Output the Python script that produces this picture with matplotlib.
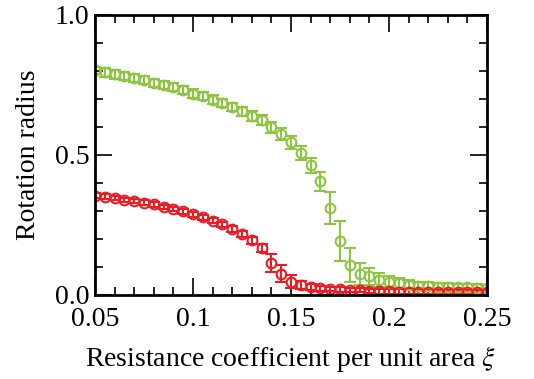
import matplotlib
matplotlib.use('Agg')
import matplotlib.pyplot as plt
import numpy as np

# resistance coefficient values (step 0.005)
xi = [0.05 + 0.005 * i for i in range(41)]

green_r = [0.802, 0.795, 0.788, 0.782, 0.774, 0.768, 0.757, 0.750, 0.742, 0.732,
           0.719, 0.710, 0.698, 0.685, 0.671, 0.656, 0.639, 0.624, 0.599, 0.575,
           0.545, 0.508, 0.464, 0.406, 0.311, 0.193, 0.108, 0.076, 0.067, 0.055,
           0.046, 0.042, 0.036, 0.033, 0.031, 0.030, 0.029, 0.029, 0.027, 0.026, 0.025]
green_err = [0.012, 0.015, 0.015, 0.015, 0.015, 0.015, 0.015, 0.015, 0.015, 0.015,
             0.015, 0.015, 0.015, 0.015, 0.015, 0.016, 0.017, 0.018, 0.019, 0.020,
             0.022, 0.025, 0.027, 0.034, 0.058, 0.070, 0.060, 0.040, 0.030, 0.025,
             0.022, 0.018, 0.016, 0.015, 0.014, 0.013, 0.013, 0.012, 0.012, 0.012, 0.012]

red_r = [0.355, 0.351, 0.346, 0.340, 0.336, 0.330, 0.324, 0.315, 0.308, 0.299,
         0.289, 0.277, 0.265, 0.252, 0.236, 0.218, 0.195, 0.167, 0.115, 0.076,
         0.048, 0.036, 0.029, 0.024, 0.021, 0.020, 0.018, 0.017, 0.015, 0.013,
         0.013, 0.012, 0.012, 0.011, 0.011, 0.011, 0.010, 0.010, 0.010, 0.010, 0.010]
red_err = [0.008, 0.008, 0.008, 0.008, 0.008, 0.008, 0.008, 0.008, 0.008, 0.008,
           0.009, 0.009, 0.009, 0.010, 0.011, 0.012, 0.013, 0.015, 0.033, 0.030,
           0.024, 0.015, 0.010, 0.009, 0.008, 0.008, 0.008, 0.008, 0.008, 0.008,
           0.008, 0.008, 0.008, 0.008, 0.008, 0.008, 0.008, 0.008, 0.008, 0.008, 0.008]

plt.rcParams['font.family'] = ['Liberation Serif', 'DejaVu Serif']
plt.rcParams['mathtext.fontset'] = 'stix'

fig = plt.figure(figsize=(5.34, 3.79), dpi=100)
ax = fig.add_axes([95/534, 1 - 295/379, 392/534, 280/379])

ax.errorbar(xi, green_r, yerr=green_err, fmt='o', mfc='none', mec='#8cc63e',
            ecolor='#8cc63e', ms=7, mew=1.5, elinewidth=1.5, capsize=4.5, capthick=1.5)
ax.errorbar(xi, red_r, yerr=red_err, fmt='o', mfc='none', mec='#ec1c24',
            ecolor='#ec1c24', ms=7, mew=1.5, elinewidth=1.5, capsize=4.5, capthick=1.5)

ax.set_xlim(0.05, 0.25)
ax.set_ylim(0.0, 1.0)
ax.set_xticks([0.05, 0.1, 0.15, 0.2, 0.25])
ax.set_xticklabels(['0.05', '0.1', '0.15', '0.2', '0.25'])
ax.set_xticks(np.arange(0.05, 0.2501, 0.01), minor=True)
ax.set_yticks([0.0, 0.5, 1.0])
ax.set_yticklabels(['0.0', '0.5', '1.0'])
ax.set_yticks(np.arange(0, 1.001, 0.1), minor=True)
ax.tick_params(which='both', direction='in', top=True, right=True, labelsize=20, width=1.2)
ax.tick_params(which='major', length=12)
ax.tick_params(axis='x', which='major', pad=9)
ax.tick_params(axis='y', which='major', pad=4)
ax.tick_params(which='minor', length=6)
for s in ax.spines.values():
    s.set_linewidth(2)

ax.set_xlabel(r'Resistance coefficient per unit area $\xi$', fontsize=20, labelpad=8)
ax.set_ylabel('Rotation radius', fontsize=20, labelpad=10)

fig.savefig('out.png', dpi=100)
plt.close(fig)
